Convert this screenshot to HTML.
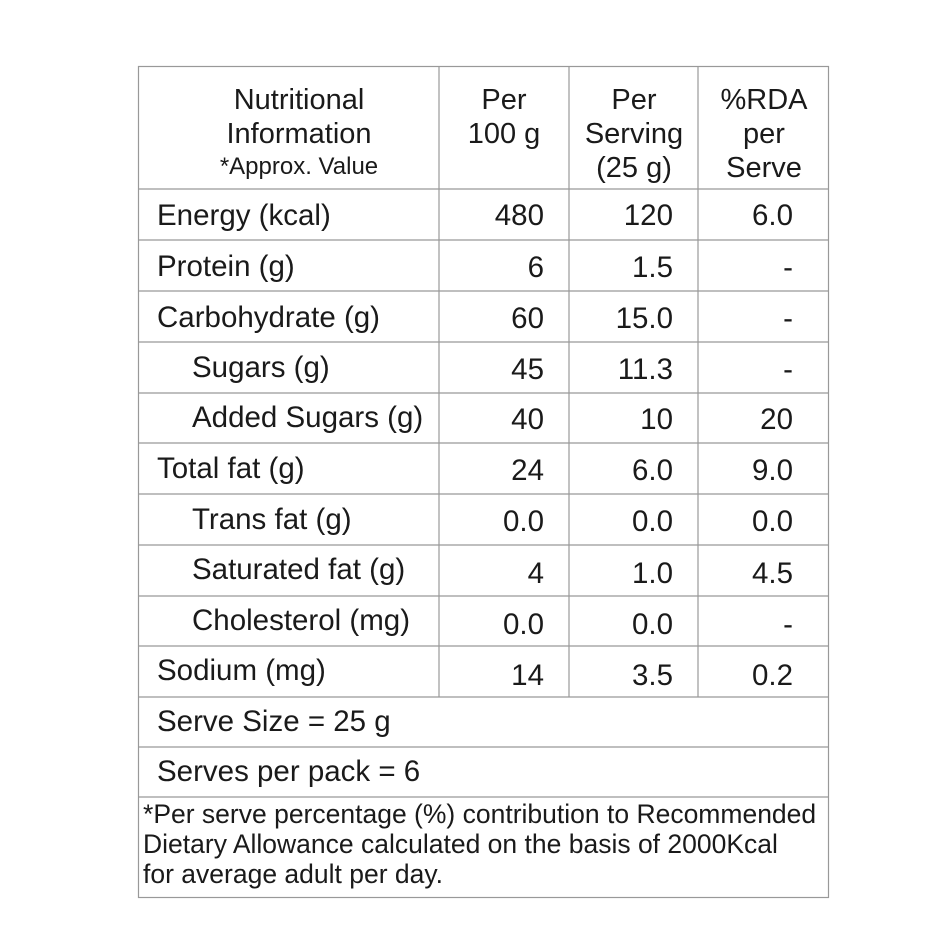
<!DOCTYPE html>
<html><head><style>body{margin:0;background:#fff}</style></head><body>
<svg width="940" height="940" xmlns="http://www.w3.org/2000/svg" font-family="'Liberation Sans', sans-serif" fill="#1a1a1a">
<rect x="0" y="0" width="940" height="940" fill="#fff"/>
<g stroke="#999" stroke-width="1.2" fill="none">
<rect x="138.5" y="66.5" width="690" height="831"/>
<line x1="439" y1="66" x2="439" y2="697"/>
<line x1="569" y1="66" x2="569" y2="697"/>
<line x1="698" y1="66" x2="698" y2="697"/>
<line x1="138" y1="189" x2="829" y2="189"/>
<line x1="138" y1="240" x2="829" y2="240"/>
<line x1="138" y1="291" x2="829" y2="291"/>
<line x1="138" y1="342" x2="829" y2="342"/>
<line x1="138" y1="393" x2="829" y2="393"/>
<line x1="138" y1="443" x2="829" y2="443"/>
<line x1="138" y1="494" x2="829" y2="494"/>
<line x1="138" y1="545" x2="829" y2="545"/>
<line x1="138" y1="596" x2="829" y2="596"/>
<line x1="138" y1="646" x2="829" y2="646"/>
<line x1="138" y1="697" x2="829" y2="697"/>
<line x1="138" y1="747" x2="829" y2="747"/>
<line x1="138" y1="797" x2="829" y2="797"/>
</g>
<g font-size="29" text-anchor="middle">
<text x="299" y="109">Nutritional</text>
<text x="299" y="143">Information</text>
<text x="299" y="174" font-size="24">*Approx. Value</text>
<text x="504" y="109">Per</text>
<text x="504" y="143">100 g</text>
<text x="634" y="109">Per</text>
<text x="634" y="143">Serving</text>
<text x="634" y="177">(25 g)</text>
<text x="764" y="109">%RDA</text>
<text x="764" y="143">per</text>
<text x="764" y="177">Serve</text>
</g>
<g font-size="29.5">
<text x="157" y="225">Energy (kcal)</text>
<text x="157" y="276">Protein (g)</text>
<text x="157" y="327">Carbohydrate (g)</text>
<text x="192" y="377">Sugars (g)</text>
<text x="192" y="427">Added Sugars (g)</text>
<text x="157" y="478">Total fat (g)</text>
<text x="192" y="529">Trans fat (g)</text>
<text x="192" y="579">Saturated fat (g)</text>
<text x="192" y="630">Cholesterol (mg)</text>
<text x="157" y="680">Sodium (mg)</text>
<text x="157" y="731">Serve Size = 25 g</text>
<text x="157" y="781">Serves per pack = 6</text>
</g>
<g font-size="29.5" text-anchor="end">
<text x="544" y="225">480</text><text x="673" y="225">120</text><text x="793" y="225">6.0</text>
<text x="544" y="277">6</text><text x="673" y="277">1.5</text><text x="793" y="277">-</text>
<text x="544" y="328">60</text><text x="673" y="328">15.0</text><text x="793" y="328">-</text>
<text x="544" y="379">45</text><text x="673" y="379">11.3</text><text x="793" y="379">-</text>
<text x="544" y="429">40</text><text x="673" y="429">10</text><text x="793" y="429">20</text>
<text x="544" y="480">24</text><text x="673" y="480">6.0</text><text x="793" y="480">9.0</text>
<text x="544" y="531">0.0</text><text x="673" y="531">0.0</text><text x="793" y="531">0.0</text>
<text x="544" y="583">4</text><text x="673" y="583">1.0</text><text x="793" y="583">4.5</text>
<text x="544" y="634">0.0</text><text x="673" y="634">0.0</text><text x="793" y="634">-</text>
<text x="544" y="685">14</text><text x="673" y="685">3.5</text><text x="793" y="685">0.2</text>
</g>
<g font-size="26.5">
<text x="143" y="823">*Per serve percentage (%) contribution to Recommended</text>
<text x="143" y="853">Dietary Allowance calculated on the basis of 2000Kcal</text>
<text x="143" y="883">for average adult per day.</text>
</g>
</svg>
</body></html>
